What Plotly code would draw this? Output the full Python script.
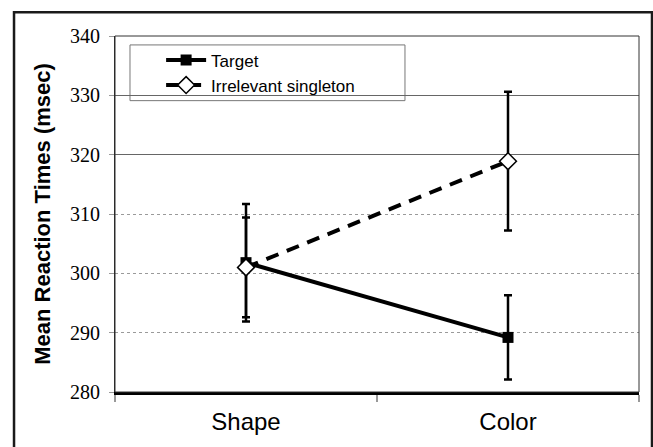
import plotly.graph_objects as go

conditions = ["Shape", "Color"]
target_rt = [301.8, 289.2]
target_err = [9.9, 7.1]
singleton_rt = [301.0, 318.9]
singleton_err = [8.4, 11.7]
dotted_grid_vals = [290, 300, 310]
solid_grid_vals = [320, 330]
y_ticks = [280, 290, 300, 310, 320, 330, 340]

fig = go.Figure()

fig.add_trace(go.Scatter(
    x=conditions, y=target_rt, name="Target", mode="lines+markers",
    line=dict(color="black", width=4),
    marker=dict(symbol="square", size=11, color="black"),
    error_y=dict(type="data", array=target_err, visible=True,
                 color="black", thickness=2.5, width=4),
))
fig.add_trace(go.Scatter(
    x=conditions, y=singleton_rt, name="Irrelevant singleton", mode="lines+markers",
    line=dict(color="black", width=4, dash="13px,9px"),
    marker=dict(symbol="diamond", size=13, color="white",
                line=dict(color="black", width=1.5)),
    error_y=dict(type="data", array=singleton_err, visible=True,
                 color="black", thickness=2.5, width=4),
))
# invisible trace to drive the second y-axis (solid gridlines)
fig.add_trace(go.Scatter(x=conditions, y=singleton_rt, yaxis="y2",
                         mode="markers", marker=dict(opacity=0),
                         showlegend=False, hoverinfo="skip"))

fig.update_layout(
    width=653, height=447,
    margin=dict(l=115, r=14, t=36, b=53),
    paper_bgcolor="white", plot_bgcolor="white",
    showlegend=True,
    legend=dict(x=0.088, y=0.982, xanchor="left", yanchor="top",
                bgcolor="rgba(0,0,0,0)", borderwidth=0,
                font=dict(family="Liberation Sans, Arial", size=17, color="black"),
                tracegroupgap=0, itemwidth=40),
    xaxis=dict(
        type="category", range=[-0.5, 1.5],
        showline=True, linecolor="black", linewidth=2.5,
        ticks="outside", tickson="boundaries", ticklen=7, tickwidth=2,
        tickcolor="#999", showgrid=False, zeroline=False,
        tickfont=dict(family="Liberation Sans, Arial", size=24, color="black"),
        ticklabelstandoff=6,
    ),
    yaxis=dict(
        range=[280, 340], tickvals=y_ticks,
        showline=True, linecolor="#222", linewidth=1,
        ticks="outside", ticklen=5, tickcolor="#999", tickwidth=1,
        showgrid=True, gridcolor="#9a9a9a", griddash="dot", gridwidth=1,
        zeroline=False,
        tickfont=dict(family="Liberation Serif, Times New Roman", size=20, color="black"),
        ticklabelstandoff=5,
        title=dict(text="<b>Mean Reaction Times (msec)</b>", standoff=13,
                   font=dict(family="Liberation Sans, Arial", size=22, color="black")),
    ),
    yaxis2=dict(
        overlaying="y", range=[280, 340], tickvals=solid_grid_vals,
        showticklabels=False, showgrid=True, gridcolor="#666", gridwidth=1,
        zeroline=False, showline=False, ticks="",
    ),
    shapes=[
        # plot-area frame (top & right)
        dict(type="rect", xref="x domain", yref="y domain", x0=0, x1=1, y0=0, y1=1,
             line=dict(color="#333", width=1), layer="above"),
        # legend box
        dict(type="rect", xref="paper", yref="paper", x0=0.0286, x1=0.5534,
             y0=0.8184, y1=0.9749, line=dict(color="#777", width=1),
             fillcolor="white", layer="below"),
        # outer figure frame
        dict(type="rect", xref="paper", yref="paper", x0=-0.1927, x1=1.0248,
             y0=-0.16, y1=1.067, line=dict(color="#1a1a1a", width=2.5)),
    ],
)

fig.write_html("out.html", config={"displayModeBar": False},
               post_script="document.body.style.margin='0';document.body.style.overflow='hidden';")
